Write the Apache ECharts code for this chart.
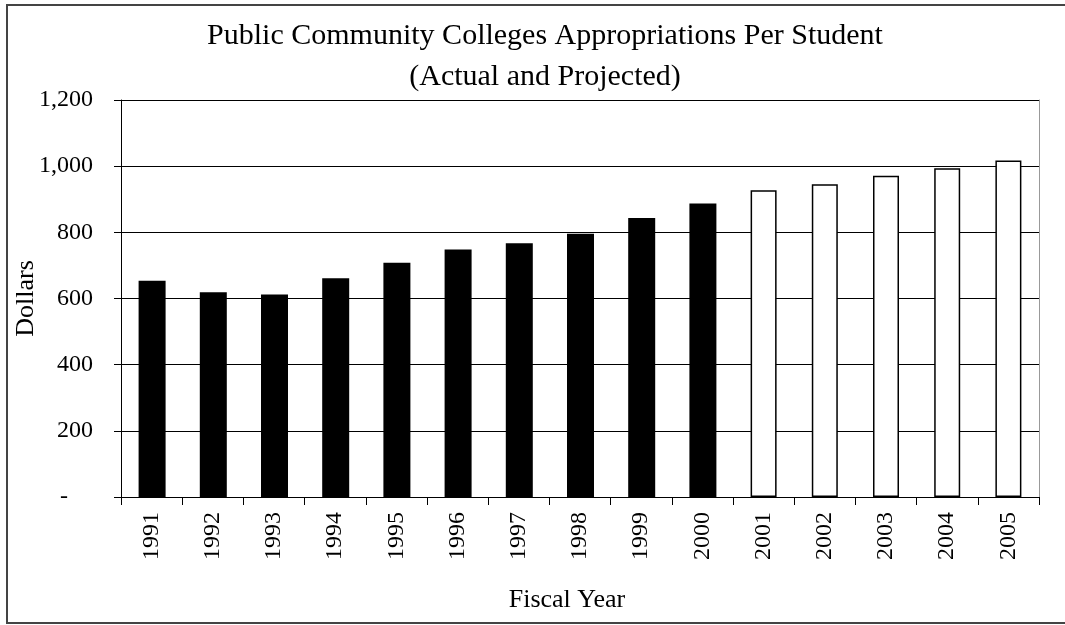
<!DOCTYPE html>
<html>
<head>
<meta charset="utf-8">
<script src="https://cdn.jsdelivr.net/npm/echarts@6/dist/echarts.min.js"></script>
<style>
  html, body { margin: 0; padding: 0; background: #fff; }
  #chart { width: 1065px; height: 625px; }
</style>
</head>
<body>
<div id="chart"></div>
<script>
// Fiscal years shown on the category axis
var years = ['1991', '1992', '1993', '1994', '1995', '1996', '1997', '1998',
             '1999', '2000', '2001', '2002', '2003', '2004', '2005'];
// Appropriations per student, dollars (actual figures through 2000)
var actualValues = [654, 619, 612, 661, 708, 748, 767, 796, 843, 887];
// Projected appropriations per student, 2001 onward
var projectedValues = [927, 945, 971, 994, 1017];
// Value axis ticks
var yTicks = [0, 200, 400, 600, 800, 1000, 1200];

var nActual = actualValues.length;
var actualSeries = years.map(function (y, i) { return i < nActual ? actualValues[i] : null; });
var projectedSeries = years.map(function (y, i) { return i >= nActual ? projectedValues[i - nActual] : null; });

var serif = '"Liberation Serif", "Times New Roman", serif';

function fmtDollars(v) {
  if (v === 0) return '{z|-}';
  return String(v).replace(/\B(?=(\d{3})+(?!\d))/g, ',');
}

var chart = echarts.init(document.getElementById('chart'), null, { renderer: 'canvas' });
chart.setOption({
  animation: false,
  backgroundColor: '#fff',
  title: {
    text: 'Public Community Colleges Appropriations Per Student\n(Actual and Projected)',
    left: 540,
    textAlign: 'center',
    top: 11,
    textStyle: { fontFamily: serif, fontSize: 30, fontWeight: 'normal', color: '#000', lineHeight: 41 }
  },
  graphic: [{
    type: 'rect',
    shape: { x: 7, y: 5, width: 1070, height: 618 },
    style: { fill: null, stroke: '#444', lineWidth: 2 },
    silent: true
  }],
  grid: { left: 121, right: 26, top: 100, bottom: 128, containLabel: false, outerBoundsMode: 'none' },
  xAxis: {
    type: 'category',
    data: years,
    boundaryGap: true,
    name: 'Fiscal Year',
    nameLocation: 'middle',
    nameGap: 90,
    nameMoveOverlap: false,
    nameTextStyle: { fontFamily: serif, fontSize: 26, color: '#000', padding: [0, 26, 0, 0] },
    axisLine: { lineStyle: { color: '#000', width: 1 } },
    axisTick: { show: true, length: 8, lineStyle: { color: '#000' } },
    axisLabel: { rotate: 90, margin: 15, fontFamily: serif, fontSize: 24, color: '#000' }
  },
  yAxis: [{
    type: 'value',
    min: yTicks[0],
    max: yTicks[yTicks.length - 1],
    interval: yTicks[1] - yTicks[0],
    name: 'Dollars',
    nameLocation: 'middle',
    nameGap: 82,
    nameMoveOverlap: false,
    nameTextStyle: { fontFamily: serif, fontSize: 26, color: '#000' },
    axisLine: { show: true, lineStyle: { color: '#000', width: 1 } },
    axisTick: { show: true, length: 7, lineStyle: { color: '#000' } },
    axisLabel: {
      margin: 28, fontFamily: serif, fontSize: 24, color: '#000',
      formatter: fmtDollars,
      rich: { z: { fontFamily: serif, fontSize: 24, color: '#000', padding: [0, 25, 0, 0] } }
    },
    splitLine: { show: true, lineStyle: { color: '#000', width: 1 } }
  }, {
    type: 'value',
    position: 'right',
    min: yTicks[0],
    max: yTicks[yTicks.length - 1],
    interval: yTicks[1] - yTicks[0],
    axisLine: { show: true, lineStyle: { color: '#999', width: 1 } },
    axisTick: { show: false },
    axisLabel: { show: false },
    splitLine: { show: false }
  }],
  series: [{
    name: 'Actual',
    type: 'bar',
    data: actualSeries,
    barWidth: 27,
    barGap: '-100%',
    itemStyle: { color: '#000' }
  }, {
    name: 'Projected',
    type: 'bar',
    data: projectedSeries,
    barWidth: 26,
    barGap: '-100%',
    itemStyle: { color: '#fff', borderColor: '#000', borderWidth: 1.5 }
  }]
});
</script>
</body>
</html>
